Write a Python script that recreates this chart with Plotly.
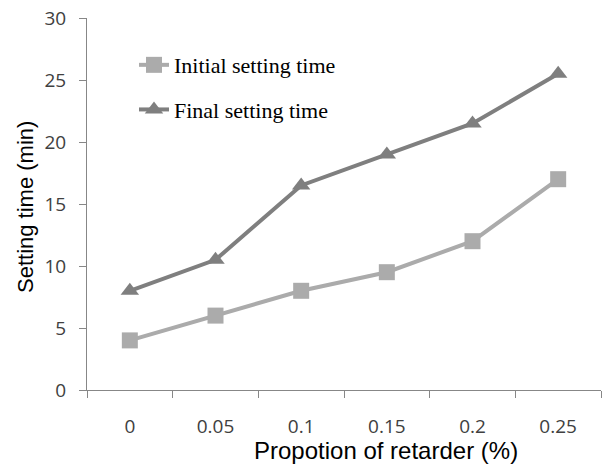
import plotly.graph_objects as go

categories = ["0", "0.05", "0.1", "0.15", "0.2", "0.25"]
initial_time = [4, 6, 8, 9.5, 12, 17]
final_time = [8, 10.5, 16.5, 19, 21.5, 25.5]

fig = go.Figure()
fig.add_trace(go.Scatter(
    x=categories, y=initial_time, name="Initial setting time",
    mode="lines+markers", legendgroup="a",
    line=dict(color="#ABABAB", width=4),
    marker=dict(symbol="square", size=16, color="#ABABAB"),
))
fig.add_trace(go.Scatter(
    x=categories, y=final_time, name="Final setting time",
    mode="lines+markers", legendgroup="b",
    line=dict(color="#7F7F7F", width=4),
    marker=dict(symbol="triangle-up", size=16, color="#7F7F7F"),
))

axis_color = "#878787"
tick_font = dict(family="Open Sans", size=19, color="#404040")
fig.update_layout(
    width=607, height=465,
    margin=dict(l=87, r=6, t=18, b=75),
    paper_bgcolor="white", plot_bgcolor="white",
    showlegend=True,
    legend=dict(
        x=(134 - 87) / 514, y=0.93, xanchor="left", yanchor="top",
        font=dict(family="Liberation Serif", size=22, color="black"),
        bgcolor="rgba(0,0,0,0)", tracegroupgap=13, itemwidth=30,
        traceorder="grouped",
    ),
    xaxis=dict(
        type="category", range=[-0.5, 5.5],
        showline=True, linecolor=axis_color, linewidth=1,
        ticks="outside", ticklen=7, tickcolor=axis_color, tickson="boundaries",
        showgrid=False, zeroline=False, ticklabelstandoff=19,
        tickfont=tick_font,
    ),
    yaxis=dict(
        range=[0, 30], dtick=5, tick0=0,
        showline=True, linecolor=axis_color, linewidth=1,
        ticks="outside", ticklen=7, tickcolor=axis_color,
        showgrid=False, zeroline=False, ticklabelstandoff=9,
        tickfont=tick_font,
    ),
    annotations=[
        dict(text="Propotion of retarder (%)", xref="paper", yref="paper",
             x=(386 - 87) / 514, y=-(450 - 390) / 372, showarrow=False,
             xanchor="center", yanchor="middle",
             font=dict(family="Liberation Sans", size=24, color="black")),
        dict(text="Setting time (min)", xref="paper", yref="paper",
             x=-(87 - 25) / 514, y=(390 - 207) / 372, showarrow=False,
             textangle=-90, xanchor="center", yanchor="middle",
             font=dict(family="Liberation Sans", size=22, color="black")),
    ],
)

fig.write_html("out.html")
